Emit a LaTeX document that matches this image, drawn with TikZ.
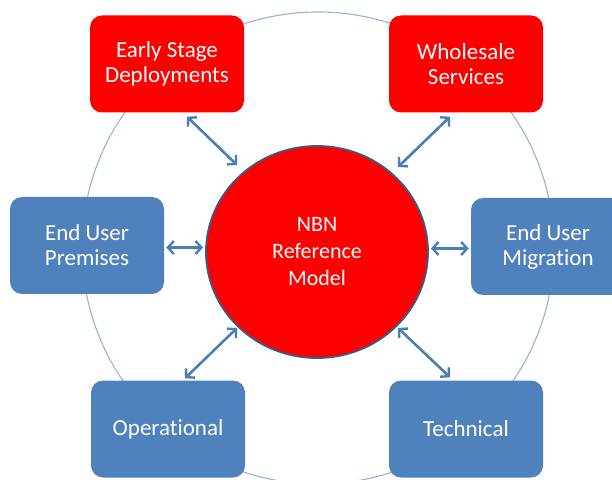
\documentclass[tikz,border=0pt]{standalone}
\usepackage{fontspec}
\setmainfont{Carlito}[Ligatures=NoCommon]
\usetikzlibrary{shapes.geometric,arrows.meta}
\definecolor{boxblue}{HTML}{4F81BD}
\definecolor{arrowblue}{HTML}{4A7EBB}
\definecolor{ringblue}{HTML}{95B3D7}
\definecolor{edgeblue}{HTML}{385D8A}
\definecolor{nbnred}{HTML}{FF0000}
\tikzset{
  card/.style={rectangle, rounded corners=12pt, minimum width=154pt, minimum height=97pt,
    text=white, align=center, font=\fontsize{23}{25}\selectfont, inner sep=0pt},
  redcard/.style={card, fill=nbnred},
  bluecard/.style={card, fill=boxblue},
  hub/.style={ellipse, minimum width=222pt, minimum height=212pt, fill=nbnred,
    draw=edgeblue, line width=1.8pt, text=white, align=center,
    font=\fontsize{22}{27}\selectfont, inner sep=0pt},
  arr/.style={draw=arrowblue, line width=2.6pt,
    {Straight Barb[length=6pt,width=13pt,line width=2.4pt]}-{Straight Barb[length=6pt,width=13pt,line width=2.4pt]}},
  ring/.style={draw=ringblue, line width=1.1pt}
}
\begin{document}
\begin{tikzpicture}[x=1pt,y=1pt]
\useasboundingbox (0,0) rectangle (612,479);
\clip (0,0) rectangle (612,479);
\draw[ring] (318,231) circle[radius=236];
\node[hub] (c) at (317,227) {NBN\\Reference\\Model};
\node[redcard] (esd) at (167,415) {Early Stage\\Deployments};
\node[redcard] (wsv) at (466,415) {Wholesale\\Services};
\node[bluecard] (eup) at (87,233.5) {End User\\Premises};
\node[bluecard] (eum) at (548,232.5) {End User\\Migration};
\node[bluecard] (ops) at (168,50) {Operational};
\node[bluecard] (tec) at (466,50) {Technical};
\draw[arr] ([shift={(20pt,-4pt)}]esd.south) -- ([shift={(-80pt,87pt)}]c.center);
\draw[arr] ([shift={(-16pt,-4pt)}]wsv.south) -- ([shift={(81pt,85pt)}]c.center);
\draw[arr] ([shift={(2pt,-2pt)}]eup.east) -- ([shift={(-2pt,-2pt)}]eup.east -| c.west);
\draw[arr] ([shift={(-2pt,-2pt)}]eum.west) -- ([shift={(2pt,-2pt)}]eum.west -| c.east);
\draw[arr] ([shift={(17pt,2pt)}]ops.north) -- ([shift={(-80pt,-76pt)}]c.center);
\draw[arr] ([shift={(-16pt,3pt)}]tec.north) -- ([shift={(81pt,-76pt)}]c.center);
\end{tikzpicture}
\end{document}
